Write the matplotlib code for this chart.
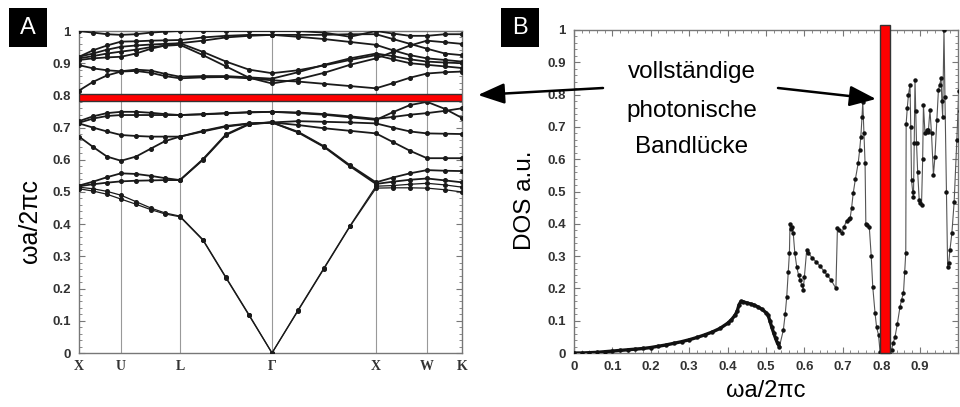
import matplotlib
matplotlib.use('Agg')
import matplotlib.pyplot as plt
from matplotlib.patches import Rectangle, FancyArrowPatch
from matplotlib.ticker import MultipleLocator

plt.rcParams['font.family'] = ['Liberation Sans', 'DejaVu Sans']

# --- panel A: photonic band structure (fcc) ---
k_pos = [0, .14, .28, .42, .57, .72, .86, 1.01, 1.24, 1.47, 1.70, 1.93,
         2.19, 2.45, 2.71, 2.97, 3.14, 3.31, 3.48, 3.66, 3.83]
k_sym = [0, 0.42, 1.01, 1.93, 2.97, 3.48, 3.83]
k_labels = ['X', 'U', 'L', 'Γ', 'X', 'W', 'K']

band_1 = [0.510, 0.503, 0.493, 0.478, 0.462, 0.445, 0.432, 0.423, 0.350, 0.233, 0.117,
          0.0, 0.131, 0.262, 0.393, 0.512, 0.513, 0.513, 0.512, 0.507, 0.500]
band_2 = [0.515, 0.510, 0.502, 0.490, 0.470, 0.450, 0.435, 0.425, 0.352, 0.235, 0.119,
          0.0, 0.133, 0.264, 0.395, 0.518, 0.520, 0.524, 0.527, 0.522, 0.515]
band_3 = [0.520, 0.532, 0.546, 0.558, 0.556, 0.550, 0.543, 0.537, 0.600, 0.677, 0.710,
          0.716, 0.685, 0.640, 0.580, 0.525, 0.532, 0.538, 0.542, 0.536, 0.530]
band_4 = [0.518, 0.524, 0.529, 0.533, 0.535, 0.536, 0.537, 0.537, 0.602, 0.679, 0.712,
          0.716, 0.687, 0.642, 0.583, 0.530, 0.545, 0.558, 0.568, 0.566, 0.565]
band_5 = [0.672, 0.640, 0.610, 0.597, 0.610, 0.635, 0.658, 0.672, 0.688, 0.703, 0.712,
          0.716, 0.708, 0.698, 0.690, 0.682, 0.655, 0.628, 0.605, 0.605, 0.605]
band_6 = [0.713, 0.700, 0.688, 0.677, 0.674, 0.672, 0.672, 0.672, 0.690, 0.705, 0.713,
          0.716, 0.720, 0.718, 0.716, 0.713, 0.700, 0.688, 0.682, 0.681, 0.680]
band_7 = [0.715, 0.728, 0.736, 0.739, 0.739, 0.739, 0.739, 0.739, 0.742, 0.745, 0.748,
          0.749, 0.745, 0.740, 0.732, 0.724, 0.748, 0.770, 0.780, 0.758, 0.730]
band_8 = [0.720, 0.735, 0.745, 0.749, 0.749, 0.746, 0.742, 0.739, 0.741, 0.744, 0.747,
          0.749, 0.747, 0.742, 0.735, 0.727, 0.733, 0.740, 0.745, 0.752, 0.760]
upper_1 = [0.815, 0.842, 0.862, 0.874, 0.876, 0.870, 0.860, 0.853, 0.856, 0.857, 0.853,
           0.847, 0.843, 0.836, 0.829, 0.822, 0.838, 0.855, 0.868, 0.872, 0.874]
upper_2 = [0.894, 0.884, 0.878, 0.875, 0.880, 0.877, 0.867, 0.858, 0.860, 0.860, 0.856,
           0.852, 0.872, 0.895, 0.915, 0.930, 0.922, 0.912, 0.905, 0.902, 0.900]
upper_3 = [0.910, 0.915, 0.918, 0.920, 0.930, 0.945, 0.955, 0.962, 0.935, 0.905, 0.880,
           0.869, 0.878, 0.893, 0.910, 0.925, 0.912, 0.900, 0.895, 0.890, 0.885]
upper_4 = [0.915, 0.922, 0.930, 0.936, 0.942, 0.950, 0.954, 0.957, 0.925, 0.890, 0.855,
           0.837, 0.850, 0.870, 0.895, 0.915, 0.935, 0.955, 0.970, 0.965, 0.960]
upper_5 = [0.920, 0.930, 0.942, 0.951, 0.955, 0.958, 0.960, 0.962, 0.970, 0.980, 0.985,
           0.988, 0.982, 0.975, 0.966, 0.957, 0.940, 0.925, 0.915, 0.910, 0.905]
upper_6 = [0.920, 0.940, 0.955, 0.967, 0.968, 0.970, 0.971, 0.972, 0.980, 0.985, 0.988,
           0.988, 0.988, 0.988, 0.990, 0.990, 0.975, 0.960, 0.945, 0.930, 0.925]
upper_7 = [1.000, 0.995, 0.990, 0.988, 0.990, 0.995, 0.998, 1.000, 1.000, 1.000, 1.000,
           1.000, 1.000, 0.995, 0.982, 1.000, 0.992, 0.985, 0.985, 0.990, 0.990]

gap_a = (0.783, 0.805)

# --- panel B: density of states ---
dos_w = [0.00, 0.02, 0.04, 0.06, 0.08, 0.10, 0.12, 0.14, 0.16, 0.18, 0.20, 0.22, 0.24,
         0.26, 0.28, 0.30, 0.32, 0.34, 0.36, 0.38, 0.40, 0.41, 0.42, 0.425, 0.43, 0.435,
         0.44, 0.45, 0.46, 0.47, 0.48, 0.49, 0.50, 0.505, 0.51, 0.515, 0.52, 0.525, 0.53,
         0.535, 0.545, 0.550, 0.554, 0.558, 0.561, 0.5625, 0.565, 0.568, 0.571, 0.575,
         0.58, 0.585, 0.589, 0.593, 0.597, 0.600, 0.606, 0.61, 0.62, 0.63, 0.64, 0.65,
         0.66, 0.67, 0.682, 0.686, 0.69, 0.697, 0.703, 0.71, 0.715, 0.719, 0.723, 0.727,
         0.733, 0.74, 0.744, 0.747, 0.750, 0.752, 0.755, 0.758, 0.760, 0.764, 0.769,
         0.774, 0.778, 0.784, 0.788, 0.793, 0.797, 0.80, 0.82, 0.827, 0.831, 0.836, 0.842,
         0.849, 0.853, 0.858, 0.861, 0.864, 0.865, 0.868, 0.871, 0.875, 0.877, 0.879,
         0.882, 0.884, 0.886, 0.888, 0.890, 0.892, 0.895, 0.899, 0.902, 0.905, 0.908,
         0.91, 0.914, 0.918, 0.921, 0.923, 0.927, 0.931, 0.936, 0.94, 0.945, 0.949, 0.952,
         0.956, 0.958, 0.96, 0.9635, 0.966, 0.970, 0.973, 0.976, 0.979, 0.984, 0.99,
         0.997, 1.002, 1.006]
dos_v = [0.000, 0.000, 0.001, 0.002, 0.004, 0.006, 0.008, 0.010, 0.012, 0.014, 0.017,
         0.021, 0.025, 0.030, 0.035, 0.041, 0.048, 0.056, 0.065, 0.076, 0.092, 0.103,
         0.118, 0.130, 0.150, 0.160, 0.159, 0.155, 0.152, 0.148, 0.142, 0.135, 0.125,
         0.118, 0.100, 0.080, 0.062, 0.045, 0.030, 0.020, 0.07, 0.12, 0.174, 0.25, 0.31,
         0.40, 0.385, 0.39, 0.37, 0.31, 0.267, 0.24, 0.226, 0.21, 0.195, 0.236, 0.319,
         0.31, 0.295, 0.283, 0.27, 0.255, 0.24, 0.225, 0.200, 0.386, 0.38, 0.37, 0.39,
         0.41, 0.415, 0.417, 0.45, 0.494, 0.54, 0.587, 0.63, 0.67, 0.73, 0.778, 0.68,
         0.587, 0.40, 0.395, 0.39, 0.30, 0.205, 0.123, 0.08, 0.056, 0.004, 0.0, 0.0, 0.01,
         0.03, 0.05, 0.09, 0.143, 0.165, 0.185, 0.25, 0.31, 0.71, 0.76, 0.80, 0.83, 0.70,
         0.535, 0.50, 0.484, 0.65, 0.845, 0.75, 0.649, 0.56, 0.474, 0.465, 0.458, 0.60,
         0.768, 0.68, 0.69, 0.685, 0.69, 0.752, 0.68, 0.551, 0.608, 0.72, 0.814, 0.83,
         0.85, 0.78, 0.732, 1.0, 0.794, 0.50, 0.267, 0.28, 0.319, 0.37, 0.468, 0.66,
         0.81, 0.75]
n_smooth = 40  # the densely sampled low-frequency part

gap_b = (0.797, 0.823)

y_ticks = [0, 0.1, 0.2, 0.3, 0.4, 0.5, 0.6, 0.7, 0.8, 0.9, 1.0]
y_labels = ['0', '0.1', '0.2', '0.3', '0.4', '0.5', '0.6', '0.7', '0.8', '0.9', '1']
x_ticks_b = [0, 0.1, 0.2, 0.3, 0.4, 0.5, 0.6, 0.7, 0.8, 0.9]
x_labels_b = ['0', '0.1', '0.2', '0.3', '0.4', '0.5', '0.6', '0.7', '0.8', '0.9']

W, H = 960, 407
fig = plt.figure(figsize=(W / 100, H / 100), dpi=100)

def px_box(x0, y0, x1, y1):
    return [x0 / W, 1 - y1 / H, (x1 - x0) / W, (y1 - y0) / H]

frame = '#777777'
tick_col = '#333333'

# ---------------- panel A ----------------
ax_a = fig.add_axes(px_box(79, 31, 462, 353))
for kx in k_sym[1:-1]:
    ax_a.axvline(kx, color='#999999', lw=0.8, zorder=1)
all_bands = [band_1, band_2, band_3, band_4, band_5, band_6, band_7, band_8,
             upper_1, upper_2, upper_3, upper_4, upper_5, upper_6, upper_7]
for i, b in enumerate(all_bands):
    lw = 0.9 if i < 2 else 1.3
    ax_a.plot(k_pos, b, color='#1a1a1a', lw=lw, marker='o', ms=2.6, zorder=3)
ax_a.axhspan(gap_a[0], gap_a[1], facecolor='#ff0000', edgecolor='#333333', lw=1, zorder=4)
ax_a.set_xlim(k_sym[0], k_sym[-1])
ax_a.set_ylim(0, 1)
ax_a.set_xticks(k_sym)
ax_a.set_xticklabels(k_labels, family=['Liberation Serif', 'DejaVu Serif'],
                     fontweight='bold', fontsize=10, color=tick_col)
ax_a.tick_params(axis='x', length=0, pad=5)
ax_a.set_yticks(y_ticks)
ax_a.set_yticklabels(y_labels, fontweight='bold', fontsize=9.5, color=tick_col)
ax_a.yaxis.set_minor_locator(MultipleLocator(0.02))
ax_a.tick_params(axis='y', which='major', direction='in', length=4, right=True,
                 color=frame, pad=6)
ax_a.tick_params(axis='y', which='minor', direction='in', length=2, right=True, color=frame)
for s in ax_a.spines.values():
    s.set_color(frame)
    s.set_linewidth(1)
ax_a.set_ylabel('ωa/2πc', fontsize=18)
ax_a.yaxis.set_label_coords(-0.097, 0.41)

# ---------------- panel B ----------------
ax_b = fig.add_axes(px_box(574, 30, 958, 353))
ax_b.plot(dos_w, dos_v, color='#555555', lw=0.8, marker='o', ms=2.2,
          mfc='#111111', mec='#111111', zorder=3, clip_on=True)
ax_b.plot(dos_w[:n_smooth], dos_v[:n_smooth], color='#111111', lw=2.4, zorder=3)
ax_b.axvspan(gap_b[0], gap_b[1], ymax=1.015, facecolor='#ff0000', edgecolor='#333333',
             lw=1, zorder=4, clip_on=False)
ax_b.set_xlim(0, 1.0)
ax_b.set_ylim(0, 1)
ax_b.set_xticks(x_ticks_b)
ax_b.set_xticklabels(x_labels_b, fontweight='bold', fontsize=9.5, color=tick_col)
ax_b.set_yticks(y_ticks)
ax_b.set_yticklabels(y_labels, fontweight='bold', fontsize=9.5, color=tick_col)
ax_b.xaxis.set_minor_locator(MultipleLocator(0.02))
ax_b.yaxis.set_minor_locator(MultipleLocator(0.02))
ax_b.tick_params(which='major', direction='in', length=4, top=True, right=True,
                 color=frame, pad=6)
ax_b.tick_params(which='minor', direction='in', length=2, top=True, right=True, color=frame)
for s in ax_b.spines.values():
    s.set_color(frame)
    s.set_linewidth(1)
ax_b.set_ylabel('DOS a.u.', fontsize=17.5)
ax_b.yaxis.set_label_coords(-0.10, 0.474)
ax_b.set_xlabel('ωa/2πc', fontsize=17, labelpad=5)

# ---------------- annotations ----------------
for txt, yy in [('vollständige', 72), ('photonische', 111), ('Bandlücke', 147)]:
    fig.text(692 / W, 1 - yy / H, txt, ha='center', va='center', fontsize=17.5,
             bbox=dict(facecolor='white', edgecolor='none', pad=1))

arrow = dict(arrowstyle='-|>,head_length=0.9,head_width=0.35', lw=1.8, color='black',
             mutation_scale=18, shrinkA=0, shrinkB=0)
fig.add_artist(FancyArrowPatch((603 / W, 1 - 88 / H), (478 / W, 1 - 95 / H),
                               transform=fig.transFigure, **arrow))
fig.add_artist(FancyArrowPatch((778 / W, 1 - 88 / H), (876 / W, 1 - 99 / H),
                               transform=fig.transFigure, **arrow))

for letter, x0 in [('A', 9), ('B', 501)]:
    fig.add_artist(Rectangle((x0 / W, 1 - 47 / H), 38 / W, 39 / H,
                             transform=fig.transFigure, facecolor='black', edgecolor='none'))
    fig.text((x0 + 19) / W, 1 - 27.5 / H, letter, color='white', fontsize=17,
             ha='center', va='center')

fig.savefig('out.png', dpi=100, facecolor='white')
